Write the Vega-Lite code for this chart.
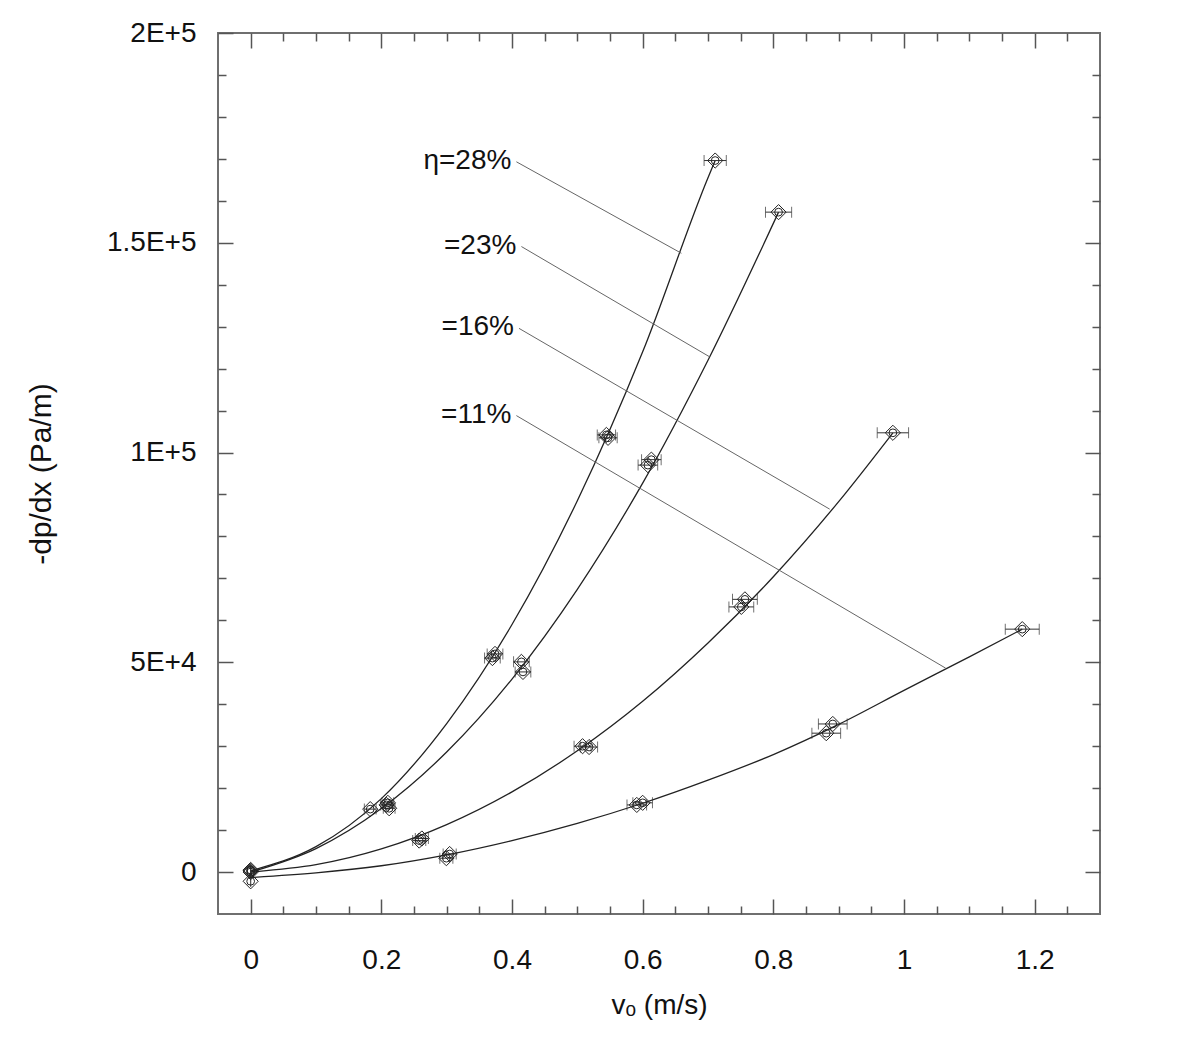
{
  "$schema": "https://vega.github.io/schema/vega-lite/v6.json",
  "autosize": {"type": "none"},
  "width": 882,
  "height": 881,
  "padding": {"left": 218, "top": 33, "right": 100, "bottom": 127},
  "background": "white",
  "config": {
    "font": "Liberation Sans",
    "view": {"stroke": "#6f6f6f", "strokeWidth": 2},
    "axis": {"grid": false, "domain": false, "labelFont": "Liberation Sans", "titleFont": "Liberation Sans", "labelColor": "#111", "titleColor": "#111", "tickColor": "#555", "tickWidth": 1.5, "labelOverlap": false, "labelFlush": false}
  },
  "datasets": {
    "pts": [
      {"s": "28", "v": 0, "p": 500, "lo": 0, "hi": 0},
      {"s": "28", "v": 0.183, "p": 15000, "lo": 0.174, "hi": 0.192},
      {"s": "28", "v": 0.208, "p": 16000, "lo": 0.199, "hi": 0.217},
      {"s": "28", "v": 0.370, "p": 51000, "lo": 0.358, "hi": 0.382},
      {"s": "28", "v": 0.374, "p": 52000, "lo": 0.362, "hi": 0.386},
      {"s": "28", "v": 0.5445, "p": 104200, "lo": 0.5305, "hi": 0.5585},
      {"s": "28", "v": 0.547, "p": 103500, "lo": 0.533, "hi": 0.561},
      {"s": "28", "v": 0.711, "p": 169600, "lo": 0.694, "hi": 0.728},
      {"s": "23", "v": 0, "p": 300, "lo": 0, "hi": 0},
      {"s": "23", "v": 0.21, "p": 16500, "lo": 0.201, "hi": 0.219},
      {"s": "23", "v": 0.212, "p": 15200, "lo": 0.203, "hi": 0.221},
      {"s": "23", "v": 0.4144, "p": 50100, "lo": 0.4024, "hi": 0.4264},
      {"s": "23", "v": 0.4168, "p": 47700, "lo": 0.4048, "hi": 0.4288},
      {"s": "23", "v": 0.6133, "p": 98300, "lo": 0.5983, "hi": 0.6283},
      {"s": "23", "v": 0.608, "p": 97000, "lo": 0.593, "hi": 0.623},
      {"s": "23", "v": 0.808, "p": 157300, "lo": 0.788, "hi": 0.828},
      {"s": "16", "v": 0, "p": 0, "lo": 0, "hi": 0},
      {"s": "16", "v": 0.258, "p": 7500, "lo": 0.248, "hi": 0.268},
      {"s": "16", "v": 0.262, "p": 8000, "lo": 0.252, "hi": 0.272},
      {"s": "16", "v": 0.508, "p": 30000, "lo": 0.495, "hi": 0.521},
      {"s": "16", "v": 0.518, "p": 29800, "lo": 0.505, "hi": 0.531},
      {"s": "16", "v": 0.7565, "p": 65000, "lo": 0.7375, "hi": 0.7755},
      {"s": "16", "v": 0.751, "p": 63200, "lo": 0.732, "hi": 0.770},
      {"s": "16", "v": 0.983, "p": 104700, "lo": 0.959, "hi": 1.007},
      {"s": "11", "v": 0, "p": -2200, "lo": 0, "hi": 0},
      {"s": "11", "v": 0.3046, "p": 4300, "lo": 0.2946, "hi": 0.3146},
      {"s": "11", "v": 0.2995, "p": 3300, "lo": 0.2895, "hi": 0.3095},
      {"s": "11", "v": 0.591, "p": 16000, "lo": 0.576, "hi": 0.606},
      {"s": "11", "v": 0.600, "p": 16500, "lo": 0.585, "hi": 0.615},
      {"s": "11", "v": 0.891, "p": 35300, "lo": 0.869, "hi": 0.913},
      {"s": "11", "v": 0.881, "p": 33100, "lo": 0.859, "hi": 0.903},
      {"s": "11", "v": 1.181, "p": 57900, "lo": 1.155, "hi": 1.207}
    ],
    "curves": [
      {"s": "28", "v": 0, "p": 300},
      {"s": "28", "v": 0.1, "p": 6050},
      {"s": "28", "v": 0.2, "p": 17500},
      {"s": "28", "v": 0.3, "p": 35400},
      {"s": "28", "v": 0.4, "p": 59000},
      {"s": "28", "v": 0.5, "p": 88500},
      {"s": "28", "v": 0.6, "p": 124000},
      {"s": "28", "v": 0.7, "p": 165500},
      {"s": "28", "v": 0.711, "p": 169600},
      {"s": "23", "v": 0, "p": 0},
      {"s": "23", "v": 0.1, "p": 5600},
      {"s": "23", "v": 0.2, "p": 15140},
      {"s": "23", "v": 0.3, "p": 28600},
      {"s": "23", "v": 0.4, "p": 46000},
      {"s": "23", "v": 0.5, "p": 67400},
      {"s": "23", "v": 0.6, "p": 92700},
      {"s": "23", "v": 0.7, "p": 122000},
      {"s": "23", "v": 0.808, "p": 157300},
      {"s": "16", "v": 0, "p": 0},
      {"s": "16", "v": 0.1, "p": 1750},
      {"s": "16", "v": 0.2, "p": 5500},
      {"s": "16", "v": 0.3, "p": 11300},
      {"s": "16", "v": 0.4, "p": 19100},
      {"s": "16", "v": 0.5, "p": 28900},
      {"s": "16", "v": 0.6, "p": 40700},
      {"s": "16", "v": 0.7, "p": 54600},
      {"s": "16", "v": 0.8, "p": 70400},
      {"s": "16", "v": 0.9, "p": 88300},
      {"s": "16", "v": 0.983, "p": 104700},
      {"s": "11", "v": 0, "p": -1300},
      {"s": "11", "v": 0.1, "p": -200},
      {"s": "11", "v": 0.2, "p": 1500},
      {"s": "11", "v": 0.3, "p": 4100},
      {"s": "11", "v": 0.4, "p": 7500},
      {"s": "11", "v": 0.5, "p": 11600},
      {"s": "11", "v": 0.6, "p": 16400},
      {"s": "11", "v": 0.7, "p": 21900},
      {"s": "11", "v": 0.8, "p": 28000},
      {"s": "11", "v": 0.9, "p": 35200},
      {"s": "11", "v": 1.0, "p": 43300},
      {"s": "11", "v": 1.1, "p": 51300},
      {"s": "11", "v": 1.181, "p": 57900}
    ],
    "ann": [
      {"label": "η=28%", "v": 0.4067, "p": 169300, "v2": 0.6593, "p2": 147500},
      {"label": "=23%", "v": 0.4144, "p": 149100, "v2": 0.7026, "p2": 122800},
      {"label": "=16%", "v": 0.4107, "p": 129600, "v2": 0.8863, "p2": 86500},
      {"label": "=11%", "v": 0.4067, "p": 108800, "v2": 1.0638, "p2": 48600}
    ]
  },
  "resolve": {"axis": {"x": "independent", "y": "independent"}},
  "layer": [
    {
      "data": {"name": "curves"},
      "mark": {"type": "line", "interpolate": "monotone", "color": "#222", "strokeWidth": 1.3},
      "encoding": {
        "x": {"field": "v", "type": "quantitative",
          "scale": {"domain": [-0.05, 1.3], "nice": false, "zero": false},
          "axis": {"orient": "bottom", "values": [0,0.05,0.1,0.15,0.2,0.25,0.3,0.35,0.4,0.45,0.5,0.55,0.6,0.65,0.7,0.75,0.8,0.85,0.9,0.95,1,1.05,1.1,1.15,1.2,1.25],
            "tickSize": {"condition": {"test": "abs(datum.value*5-round(datum.value*5))<1e-6", "value": -15}, "value": -8},
            "labelExpr": "abs(datum.value*5-round(datum.value*5))<1e-6 ? format(datum.value,'.1~f') : ''",
            "labelFontSize": 28, "labelPadding": 47, "title": "vₒ (m/s)", "titleFontSize": 28, "titleFontWeight": "normal", "titlePadding": 10}},
        "y": {"field": "p", "type": "quantitative",
          "scale": {"domain": [-10000, 200000], "nice": false, "zero": false},
          "axis": {"orient": "left", "values": [0,10000,20000,30000,40000,50000,60000,70000,80000,90000,100000,110000,120000,130000,140000,150000,160000,170000,180000,190000,200000],
            "tickSize": {"condition": {"test": "datum.value % 50000 === 0", "value": -15}, "value": -8},
            "labelExpr": "datum.value % 50000 === 0 ? (datum.value === 0 ? '0' : replace(format(datum.value,'.2~e'),'e','E')) : ''",
            "labelFontSize": 28, "labelPadding": 37, "title": "-dp/dx (Pa/m)", "titleFontSize": 30, "titleFontWeight": "normal", "titlePadding": 50}},
        "detail": {"field": "s", "type": "nominal"}
      }
    },
    {
      "data": {"name": "ann"},
      "mark": {"type": "rule", "color": "#666", "strokeWidth": 1},
      "encoding": {
        "x": {"field": "v", "type": "quantitative",
          "axis": {"orient": "top", "values": [0,0.05,0.1,0.15,0.2,0.25,0.3,0.35,0.4,0.45,0.5,0.55,0.6,0.65,0.7,0.75,0.8,0.85,0.9,0.95,1,1.05,1.1,1.15,1.2,1.25],
            "tickSize": {"condition": {"test": "abs(datum.value*5-round(datum.value*5))<1e-6", "value": -15}, "value": -8},
            "labels": false, "title": null}},
        "y": {"field": "p", "type": "quantitative",
          "axis": {"orient": "right", "values": [0,10000,20000,30000,40000,50000,60000,70000,80000,90000,100000,110000,120000,130000,140000,150000,160000,170000,180000,190000],
            "tickSize": {"condition": {"test": "datum.value % 50000 === 0", "value": -15}, "value": -8},
            "labels": false, "title": null}},
        "x2": {"field": "v2"},
        "y2": {"field": "p2"}
      }
    },
    {
      "data": {"name": "ann"},
      "mark": {"type": "text", "align": "right", "baseline": "middle", "dx": -5, "dy": -1, "fontSize": 28, "font": "Liberation Sans", "color": "#111"},
      "encoding": {
        "x": {"field": "v", "type": "quantitative", "axis": null},
        "y": {"field": "p", "type": "quantitative", "axis": null},
        "text": {"field": "label"}
      }
    },
    {
      "data": {"name": "pts"},
      "mark": {"type": "rule", "color": "#333", "strokeWidth": 1},
      "encoding": {
        "x": {"field": "lo", "type": "quantitative", "axis": null},
        "x2": {"field": "hi"},
        "y": {"field": "p", "type": "quantitative", "axis": null}
      }
    },
    {
      "data": {"name": "pts"},
      "mark": {"type": "tick", "orient": "vertical", "size": 11, "thickness": 1, "color": "#333"},
      "encoding": {
        "x": {"field": "lo", "type": "quantitative", "axis": null},
        "y": {"field": "p", "type": "quantitative", "axis": null}
      }
    },
    {
      "data": {"name": "pts"},
      "mark": {"type": "tick", "orient": "vertical", "size": 11, "thickness": 1, "color": "#333"},
      "encoding": {
        "x": {"field": "hi", "type": "quantitative", "axis": null},
        "y": {"field": "p", "type": "quantitative", "axis": null}
      }
    },
    {
      "data": {"name": "pts"},
      "mark": {"type": "point", "shape": "diamond", "filled": false, "size": 230, "color": "#222", "strokeWidth": 1, "opacity": 1},
      "encoding": {
        "x": {"field": "v", "type": "quantitative", "axis": null},
        "y": {"field": "p", "type": "quantitative", "axis": null}
      }
    },
    {
      "data": {"name": "pts"},
      "mark": {"type": "point", "shape": "circle", "filled": false, "size": 60, "color": "#222", "strokeWidth": 1, "opacity": 1},
      "encoding": {
        "x": {"field": "v", "type": "quantitative", "axis": null},
        "y": {"field": "p", "type": "quantitative", "axis": null}
      }
    }
  ]
}
